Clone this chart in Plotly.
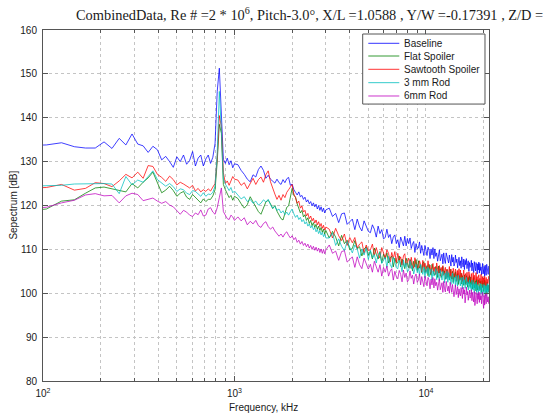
import numpy as np
import plotly.graph_objects as go

# FFT bin width of the spectra (Hz); the bins listed below are the ones plotted
BIN_HZ = 20.8333
fft_bins = list(range(4, 49)) + list(range(50, 145, 2)) + list(range(150, 1021, 6))
freq_hz = np.array(fft_bins) * BIN_HZ

series_names = ["Baseline", "Flat Spoiler", "Sawtooth Spoiler", "3 mm Rod", "6mm Rod"]
series_colors = ["#0000ff", "#008000", "#ff0000", "#00bfbf", "#bf00bf"]

baseline_db = [
    133.7, 133.8, 134.3, 133.4, 133.1, 133.1, 134.5, 133.0, 135.3, 133.8, 136.3, 134.0, 133.6, 132.1, 133.5,
    132.7, 130.4, 131.2, 130.0, 128.7, 131.1, 130.0, 131.5, 129.4, 130.3, 132.3, 129.0, 130.8, 131.5, 129.0,
    130.6, 131.5, 129.6, 131.0, 134.2, 146.0, 151.3, 140.0, 130.5, 129.6, 130.8, 129.3, 130.2, 128.6, 129.5,
    129.3, 128.0, 127.1, 126.0, 125.4, 127.0, 126.5, 128.2, 129.0, 128.0, 126.2, 126.9, 126.0, 125.5, 125.1, 126.0,
    125.2, 124.8, 125.9, 125.2, 126.1, 126.4, 124.6, 124.9, 123.6, 123.0, 122.4, 123.1, 122.0, 122.3, 121.4, 121.9,
    120.8, 121.3, 120.4, 120.9, 119.9, 120.6, 119.7, 120.3, 119.2, 120.0, 118.9, 119.7, 118.6, 119.4, 118.3, 119.0,
    119.4, 117.5, 118.2, 116.1, 118.1, 118.3, 115.7, 116.3, 116.9, 114.5, 116.9, 115.1, 114.2, 116.5, 115.4, 114.1,
    113.8, 115.6, 114.6, 112.8, 115.3, 113.6, 114.5, 112.4, 112.7, 114.6, 112.7, 113.4, 111.3, 112.8, 113.3, 111.3,
    112.2, 110.4, 112.8, 111.5, 110.8, 113.0, 110.8, 112.5, 111.3, 112.6, 110.2, 111.2, 111.8, 109.3, 111.3, 110.1,
    110.3, 111.7, 109.1, 110.9, 109.4, 108.6, 110.9, 109.9, 108.6, 110.5, 109.9, 107.9, 110.1, 108.7, 110.4, 107.9,
    110.1, 108.4, 109.2, 107.3, 109.4, 109.9, 107.4, 108.2, 108.9, 106.7, 109.2, 107.6, 106.8, 109.2, 108.2, 107.0,
    106.9, 108.7, 107.8, 106.2, 108.8, 107.1, 108.2, 106.2, 106.7, 108.7, 107.0, 107.8, 105.8, 107.5, 108.2, 106.3,
    107.4, 105.7, 108.3, 107.0, 106.0, 107.8, 105.4, 107.5, 106.5, 107.9, 105.6, 106.8, 107.4, 105.0, 107.0, 105.9,
    106.1, 107.5, 105.1, 106.9, 105.5, 104.7, 107.2, 106.3, 105.1, 107.0, 106.4, 104.4, 106.7, 105.3, 107.1, 104.6,
    106.8, 105.2, 106.0, 104.2, 106.4, 106.8, 104.4, 105.3, 106.1, 103.9, 106.4, 104.8, 104.1, 106.6, 105.5, 104.4,
    104.3, 106.2,
]

flat_spoiler_db = [
    118.8, 119.2, 121.0, 121.3, 122.8, 124.0, 124.2, 123.8, 123.4, 123.1, 125.0, 124.0, 125.3, 126.3, 127.6,
    125.0, 122.9, 123.5, 124.4, 123.4, 122.1, 122.8, 123.2, 121.9, 121.4, 122.5, 121.8, 121.2, 120.6, 121.5,
    120.9, 121.4, 121.4, 122.2, 123.6, 130.0, 138.5, 136.5, 124.8, 123.6, 122.6, 121.8, 122.3, 121.2, 122.1,
    121.6, 120.4, 119.4, 120.2, 122.0, 120.8, 119.6, 118.6, 118.0, 119.5, 120.8, 121.2, 120.4, 119.3, 120.0, 118.7,
    117.8, 117.0, 116.7, 118.0, 119.6, 119.9, 122.0, 123.9, 122.3, 121.9, 120.4, 119.2, 118.3, 118.9, 117.4, 117.9,
    116.6, 117.2, 115.9, 116.6, 115.4, 116.1, 115.0, 115.7, 114.6, 115.3, 114.3, 115.0, 113.9, 114.6, 113.5, 114.3,
    112.6, 114.1, 112.8, 110.8, 113.2, 111.3, 112.1, 109.9, 110.2, 112.0, 110.1, 110.6, 108.5, 110.1, 110.6, 108.6,
    109.6, 107.8, 110.3, 108.9, 107.8, 109.5, 106.9, 108.9, 107.8, 109.2, 106.9, 108.0, 108.5, 106.0, 108.0, 106.8,
    107.0, 108.5, 106.0, 107.8, 106.4, 105.6, 108.0, 107.0, 105.8, 107.7, 107.1, 105.1, 107.3, 106.0, 107.7, 105.2,
    107.4, 105.7, 106.5, 104.7, 106.8, 107.2, 104.7, 105.5, 106.3, 104.0, 106.6, 104.9, 104.1, 106.6, 105.5, 104.4,
    104.2, 106.1, 105.2, 103.6, 106.2, 104.6, 105.6, 103.6, 104.1, 106.1, 104.4, 105.1, 103.2, 104.8, 105.4, 103.6,
    104.6, 103.0, 105.5, 104.2, 103.2, 105.0, 102.5, 104.5, 103.5, 104.9, 102.7, 103.8, 104.5, 102.0, 104.0, 102.9,
    103.1, 104.6, 102.1, 104.0, 102.5, 101.8, 104.2, 103.3, 102.0, 104.0, 103.3, 101.4, 103.6, 102.2, 104.0, 101.5,
    103.7, 102.0, 102.9, 101.0, 103.2, 103.6, 101.2, 102.0, 102.8, 100.5, 103.1, 101.4, 100.7, 103.1, 102.1, 101.0,
    100.8, 102.7, 101.9, 100.2, 102.9, 101.3, 102.3, 100.4, 100.9, 103.0, 101.3, 102.0, 100.1, 101.8, 102.5, 100.7,
    101.8, 100.2,
]

sawtooth_db = [
    124.0, 124.1, 124.8, 123.5, 123.9, 125.2, 125.0, 124.3, 125.6, 127.1, 126.3, 127.6, 126.2, 129.1, 128.9,
    127.1, 126.4, 125.5, 126.7, 125.9, 124.7, 125.3, 124.9, 124.4, 124.0, 124.6, 123.3, 123.9, 123.1, 123.6,
    123.2, 123.8, 123.3, 124.2, 125.0, 131.0, 140.5, 138.0, 127.5, 125.0, 125.6, 124.6, 125.8, 126.6, 126.0,
    125.8, 124.6, 125.2, 123.8, 124.9, 126.2, 124.8, 125.9, 126.5, 125.3, 127.0, 127.9, 125.4, 123.8, 122.6, 121.4,
    122.3, 121.2, 122.5, 121.8, 123.0, 123.6, 124.2, 124.8, 122.6, 121.8, 120.5, 121.0, 119.4, 119.9, 118.5, 118.9,
    117.6, 118.2, 117.0, 117.6, 116.5, 117.1, 116.0, 116.7, 115.6, 116.3, 115.2, 115.9, 114.8, 115.5, 114.4, 115.1,
    114.6, 112.6, 114.8, 113.1, 112.0, 113.5, 110.9, 112.7, 111.5, 112.7, 110.3, 111.2, 111.7, 109.1, 111.0, 109.7,
    109.9, 111.2, 108.7, 110.4, 108.9, 108.0, 110.4, 109.3, 108.0, 109.9, 109.1, 107.1, 109.3, 107.9, 109.5, 107.0,
    109.1, 107.5, 108.3, 106.4, 108.5, 109.0, 106.5, 107.3, 108.0, 105.7, 108.2, 106.5, 105.7, 108.1, 107.0, 105.8,
    105.6, 107.4, 106.6, 104.9, 107.5, 105.9, 106.9, 104.9, 105.4, 107.4, 105.7, 106.4, 104.5, 106.1, 106.8, 104.9,
    106.0, 104.3, 106.9, 105.5, 104.6, 106.3, 103.9, 105.9, 104.9, 106.3, 104.1, 105.2, 105.9, 103.4, 105.5, 104.3,
    104.6, 106.1, 103.6, 105.5, 104.0, 103.3, 105.7, 104.8, 103.6, 105.5, 104.9, 102.9, 105.2, 103.8, 105.6, 103.1,
    105.3, 103.7, 104.5, 102.7, 104.8, 105.3, 102.9, 103.7, 104.5, 102.3, 104.8, 103.2, 102.5, 104.9, 103.9, 102.8,
    102.6, 104.5, 103.7, 102.0, 104.7, 103.1, 104.1, 102.2, 102.7, 104.7, 103.0, 103.8, 101.8, 103.5, 104.2, 102.3,
    103.4, 101.8, 104.3, 103.0, 102.1, 103.8, 101.4, 103.5, 102.4, 103.9, 101.7, 102.9, 103.6, 101.1, 103.2, 102.1,
    102.4, 103.9,
]

rod_3mm_db = [
    124.4, 124.5, 124.6, 124.9, 125.0, 125.0, 125.0, 124.9, 122.7, 126.6, 124.7, 125.8, 125.3, 126.6, 127.9,
    125.9, 125.2, 124.4, 125.0, 124.3, 123.2, 123.8, 123.6, 122.8, 122.5, 123.4, 123.2, 122.6, 122.1, 122.9,
    122.1, 122.6, 122.5, 123.0, 124.4, 132.0, 146.0, 137.0, 126.0, 124.9, 124.0, 123.4, 124.1, 122.9, 123.3,
    122.4, 121.5, 122.0, 120.9, 121.4, 120.5, 121.0, 120.1, 120.5, 121.3, 120.8, 121.4, 120.2, 119.4, 119.8, 118.9,
    119.2, 118.3, 118.8, 117.9, 118.5, 117.8, 118.6, 119.2, 118.1, 117.3, 117.8, 116.8, 117.3, 116.3, 116.8, 115.8,
    116.3, 115.3, 115.8, 114.9, 115.4, 114.5, 115.0, 114.0, 114.6, 113.6, 114.2, 113.3, 113.9, 112.9, 113.5, 112.6,
    112.6, 113.7, 110.9, 112.4, 110.7, 109.7, 111.8, 110.6, 109.2, 111.0, 110.1, 108.0, 110.1, 108.7, 110.3, 107.7,
    109.8, 108.0, 108.8, 106.9, 108.9, 109.3, 106.8, 107.5, 108.2, 105.9, 108.4, 106.6, 105.8, 108.2, 107.1, 105.8,
    105.6, 107.5, 106.6, 104.9, 107.6, 105.9, 106.9, 104.9, 105.3, 107.4, 105.6, 106.3, 104.4, 106.0, 106.6, 104.7,
    105.8, 104.1, 106.6, 105.3, 104.3, 106.0, 103.5, 105.5, 104.5, 105.9, 103.7, 104.8, 105.5, 103.0, 105.1, 103.9,
    104.1, 105.6, 103.1, 105.0, 103.5, 102.8, 105.2, 104.3, 103.0, 105.0, 104.3, 102.4, 104.6, 103.2, 105.0, 102.5,
    104.7, 103.0, 103.9, 102.0, 104.2, 104.6, 102.2, 103.0, 103.7, 101.5, 104.0, 102.4, 101.6, 104.1, 103.0, 101.8,
    101.7, 103.5, 102.7, 101.0, 103.7, 102.0, 103.1, 101.1, 101.6, 103.6, 101.9, 102.6, 100.7, 102.3, 103.0, 101.1,
    102.2, 100.5, 103.0, 101.7, 100.7, 102.5, 100.0, 102.1, 101.0, 102.5, 100.2, 101.4, 102.0, 99.6, 101.6, 100.5,
    100.7, 102.2, 99.8, 101.7, 100.2, 99.5, 102.0, 101.1, 99.9, 101.9, 101.3, 99.4, 101.7, 100.4, 102.2, 99.8,
    102.0, 100.4,
]

rod_6mm_db = [
    119.3, 119.6, 120.6, 121.2, 122.4, 122.7, 122.2, 122.3, 120.6, 122.2, 122.8, 122.5, 121.1, 121.4, 121.7,
    121.0, 120.5, 120.9, 120.1, 119.7, 118.8, 118.0, 118.9, 118.5, 117.8, 117.5, 118.3, 117.9, 119.0, 117.6,
    117.8, 119.2, 119.5, 118.5, 118.0, 119.5, 121.8, 124.0, 118.6, 117.6, 117.0, 116.8, 117.8, 117.4, 116.6,
    117.4, 116.5, 117.2, 115.6, 116.4, 115.8, 116.6, 115.4, 115.0, 115.9, 116.3, 115.2, 114.6, 115.1, 114.2, 113.6,
    113.0, 113.5, 112.8, 113.6, 114.0, 113.2, 112.6, 113.1, 112.2, 112.7, 111.6, 112.1, 111.2, 111.8, 110.9, 111.4,
    110.6, 111.2, 110.3, 110.9, 110.0, 110.7, 109.8, 110.5, 109.6, 110.3, 109.3, 110.1, 109.1, 110.0, 109.0, 109.9,
    111.0, 109.1, 109.6, 107.5, 109.5, 109.7, 107.1, 107.7, 108.3, 105.9, 108.3, 106.5, 105.6, 108.0, 106.8, 105.5,
    106.6, 104.8, 107.3, 105.9, 104.8, 106.5, 103.9, 105.9, 104.8, 106.2, 103.9, 105.0, 105.6, 103.0, 105.0, 103.8,
    103.3, 105.2, 104.3, 102.6, 105.3, 103.6, 104.6, 102.6, 103.1, 105.1, 103.4, 104.1, 102.1, 103.8, 104.4, 102.5,
    103.0, 104.4, 101.9, 103.8, 102.3, 101.5, 103.9, 102.9, 101.7, 103.6, 103.0, 101.0, 103.2, 101.9, 103.6, 101.2,
    103.3, 101.7, 102.5, 100.7, 102.8, 103.3, 100.8, 101.7, 102.4, 100.2, 102.7, 101.0, 100.3, 102.7, 101.6, 100.5,
    101.6, 100.0, 102.5, 101.2, 100.2, 102.0, 99.5, 99.2, 100.5, 101.9, 99.7, 100.8, 101.5, 99.0, 101.0, 99.9,
    99.4, 101.3, 100.4, 98.8, 101.4, 99.8, 100.8, 97.8, 99.3, 101.4, 99.6, 100.4, 98.4, 100.1, 100.7, 98.9,
    99.3, 100.8, 98.3, 100.2, 98.7, 98.0, 100.4, 97.2, 98.2, 100.2, 99.5, 97.6, 99.9, 98.6, 100.3, 97.9,
    100.1, 98.5, 99.4, 97.6, 99.8, 100.2, 97.8, 96.6, 99.5, 97.3, 99.9, 98.3, 97.6, 100.1, 99.1, 98.0,
    99.2, 97.6,
]

series_values = [baseline_db, flat_spoiler_db, sawtooth_db, rod_3mm_db, rod_6mm_db]

y_ticks = [80, 90, 100, 110, 120, 130, 140, 150, 160]
x_major = [100, 1000, 10000]
x_major_labels = ["10<sup>2</sup>", "10<sup>3</sup>", "10<sup>4</sup>"]
x_minor = [200, 300, 400, 500, 600, 700, 800, 900,
           2000, 3000, 4000, 5000, 6000, 7000, 8000, 9000, 20000]

title_text = ("CombinedData, Re # =2 * 10<sup>6</sup>, Pitch-3.0°, X/L =1.0588 , "
              "Y/W =-0.17391 , Z/D =")

AXIS = "#555555"
GRID = "#c4c4c4"
INK = "#1a1a1a"
SANS = "Liberation Sans, Arial, sans-serif"
SERIF = "Liberation Serif, DejaVu Serif, serif"

fig = go.Figure()
for name, color, vals in zip(series_names, series_colors, series_values):
    fig.add_trace(go.Scatter(
        x=freq_hz, y=vals, mode="lines", name=name,
        line=dict(color=color, width=0.75), showlegend=False,
    ))

# boxed legend in the upper right corner of the axes
fig.add_shape(type="rect", xref="paper", yref="paper",
              x0=0.7168, x1=0.991, y0=0.789, y1=0.9886,
              line=dict(color=AXIS, width=1), fillcolor="white", layer="above")
row_y = [0.9621, 0.9259, 0.888, 0.8499, 0.812]
for name, color, yy in zip(series_names, series_colors, row_y):
    fig.add_shape(type="line", xref="paper", yref="paper",
                  x0=0.7294, x1=0.7989, y0=yy, y1=yy,
                  line=dict(color=color, width=0.8), layer="above")
    fig.add_annotation(text=name, xref="paper", yref="paper", x=0.806, y=yy,
                       xanchor="left", yanchor="middle", showarrow=False,
                       font=dict(family=SANS, size=10, color=INK))

# title, left-aligned above the axes and running past the right edge
fig.add_annotation(text=title_text, xref="paper", yref="paper", x=0.0695, y=1.0456,
                   xanchor="left", yanchor="middle", showarrow=False,
                   font=dict(family=SERIF, size=14.4, color=INK))

# axis titles
fig.add_annotation(text="Frequency, kHz", xref="paper", yref="paper", x=0.4955, y=-0.075,
                   xanchor="center", yanchor="middle", showarrow=False,
                   font=dict(family=SANS, size=10, color=INK))
fig.add_annotation(text="Sepectrum [dB]", xref="paper", yref="paper", x=-0.067, y=0.5,
                   xanchor="center", yanchor="middle", showarrow=False, textangle=-90,
                   font=dict(family=SANS, size=10, color=INK))

fig.update_xaxes(
    type="log", range=[2, np.log10(1024 * BIN_HZ)], automargin=False,
    tickmode="array", tickvals=x_major, ticktext=x_major_labels,
    ticks="inside", ticklen=5, tickcolor=AXIS, ticklabelstandoff=3,
    showline=True, linecolor=AXIS, linewidth=1, mirror="ticks",
    showgrid=True, gridcolor=GRID, griddash="dot", gridwidth=1,
    minor=dict(tickmode="array", tickvals=x_minor, ticks="inside", ticklen=3,
               tickcolor=AXIS, showgrid=True, gridcolor=GRID, griddash="dot", gridwidth=1),
    zeroline=False,
    tickfont=dict(family=SANS, size=10, color=INK),
)
fig.update_yaxes(
    range=[80, 160], automargin=False, tickmode="array", tickvals=y_ticks,
    ticks="inside", ticklen=5, tickcolor=AXIS, ticklabelstandoff=3,
    showline=True, linecolor=AXIS, linewidth=1, mirror="ticks",
    showgrid=True, gridcolor=GRID, griddash="dot", gridwidth=1,
    zeroline=False,
    tickfont=dict(family=SANS, size=10, color=INK),
)

fig.update_layout(
    template="none",
    width=544, height=414,
    margin=dict(l=43, r=55, t=30, b=33, pad=0),
    paper_bgcolor="white", plot_bgcolor="white",
    showlegend=False,
)

fig.write_html("out.html")
